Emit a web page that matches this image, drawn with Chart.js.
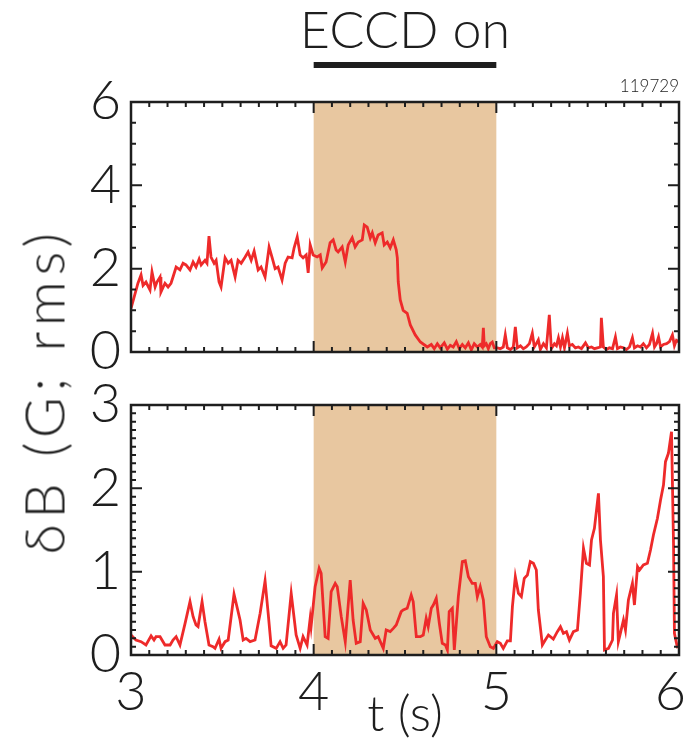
<!DOCTYPE html>
<html><head><meta charset="utf-8">
<script src="https://cdn.jsdelivr.net/npm/chart.js@4/dist/chart.umd.min.js"></script>
<style>
html,body{margin:0;padding:0;background:#fff;}
#wrap{position:relative;width:686px;height:745px;overflow:hidden;background:#fff;}
#c1{position:absolute;left:0;top:0;}
#c2{position:absolute;left:0;top:380px;}
#ylab{position:absolute;left:43px;top:391px;transform:translate(-50%,-50%) rotate(-90deg);font:300 56px Lato, "Noto Sans", sans-serif;letter-spacing:5.5px;white-space:nowrap;color:#222;}
</style></head>
<body><div id="wrap">
<canvas id="c1" width="686" height="380"></canvas>
<canvas id="c2" width="686" height="365"></canvas>
<div id="ylab">δB (G; rms)</div>
</div>
<script>
// ---- data ----
const shotNumber = "119729";
const eccdOn = [4, 5];
const xTickLabels = ["3", "4", "5", "6"];
const topYTicks = [0, 2, 4, 6];
const botYTicks = [0, 1, 2, 3];

const tTop = [3.000,3.016,3.038,3.055,3.066,3.082,3.104,3.115,3.132,3.142,3.159,3.164,3.186,3.203,3.219,3.230,3.247,3.268,3.285,3.301,
3.323,3.340,3.356,3.373,3.384,3.405,3.416,3.427,3.438,3.455,3.466,3.482,3.493,3.515,3.532,3.548,3.570,3.586,3.603,3.625,
3.641,3.658,3.674,3.696,3.712,3.734,3.756,3.773,3.789,3.805,3.827,3.844,3.860,3.882,3.893,3.910,3.926,3.942,3.959,3.970,
3.981,3.997,4.019,4.036,4.047,4.068,4.090,4.107,4.123,4.134,4.156,4.173,4.189,4.211,4.227,4.244,4.266,4.277,4.293,4.310,
4.321,4.337,4.353,4.375,4.386,4.403,4.419,4.436,4.452,4.458,4.463,4.474,4.490,4.512,4.529,4.556,4.584,4.622,
4.644,4.660,4.677,4.693,4.715,4.732,4.748,4.764,4.781,4.797,4.814,4.830,4.847,4.863,4.879,4.896,4.912,4.923,4.929,4.934,
4.945,4.956,4.967,4.978,4.989,5.005,5.022,5.038,5.049,5.060,5.077,5.093,5.104,5.115,5.132,5.148,5.164,5.181,5.197,5.208,
5.219,5.230,5.241,5.258,5.274,5.290,5.301,5.318,5.329,5.340,5.351,5.362,5.373,5.389,5.400,5.416,5.433,5.449,5.466,5.488,
5.504,5.521,5.537,5.553,5.570,5.575,5.586,5.603,5.619,5.636,5.652,5.663,5.679,5.696,5.712,5.729,5.745,5.756,5.773,5.789,
5.805,5.822,5.838,5.855,5.866,5.877,5.888,5.899,5.915,5.932,5.948,5.964,5.975,5.986,6.000];
const dBTop = [1.05,1.30,1.65,1.85,1.60,1.68,1.49,1.92,1.56,1.68,1.80,1.44,1.65,1.56,1.65,1.80,2.04,1.97,2.13,2.09,
1.97,2.16,2.04,2.23,2.09,2.20,2.13,2.78,2.28,2.13,2.20,1.68,1.56,2.26,2.13,2.20,1.80,2.20,2.13,2.28,
2.40,2.20,2.42,1.97,2.04,1.80,2.52,2.26,2.00,2.04,1.73,2.13,2.28,2.26,2.50,2.76,2.33,2.26,2.33,1.90,
2.57,2.33,2.28,2.33,2.02,2.16,2.62,2.69,2.45,2.40,2.52,2.16,2.57,2.74,2.52,2.64,2.69,3.05,3.00,2.74,
2.86,2.62,2.81,2.86,2.57,2.64,2.50,2.69,2.45,2.26,1.68,1.25,1.00,0.93,0.65,0.41,0.24,0.12,
0.18,0.08,0.20,0.10,0.22,0.07,0.16,0.12,0.25,0.08,0.18,0.10,0.22,0.05,0.20,0.12,0.18,0.12,0.58,0.15,
0.20,0.08,0.20,0.24,0.10,0.10,0.08,0.12,0.41,0.10,0.06,0.12,0.60,0.10,0.15,0.08,0.12,0.20,0.45,0.12,
0.20,0.29,0.06,0.20,0.10,0.89,0.08,0.20,0.15,0.34,0.12,0.34,0.10,0.45,0.15,0.18,0.10,0.12,0.08,0.22,
0.10,0.12,0.08,0.10,0.12,0.82,0.12,0.06,0.10,0.08,0.36,0.08,0.12,0.10,0.06,0.12,0.34,0.10,0.15,0.12,
0.20,0.10,0.18,0.45,0.12,0.20,0.36,0.12,0.18,0.20,0.25,0.41,0.15,0.28,0.24];

const tBot = [3.000,3.027,3.055,3.082,3.110,3.126,3.137,3.159,3.186,3.214,3.230,3.247,3.268,3.296,3.323,3.340,3.356,3.367,3.389,3.405,
3.427,3.449,3.460,3.482,3.493,3.515,3.532,3.564,3.597,3.614,3.630,3.652,3.679,3.707,3.734,3.751,3.767,3.795,3.816,3.833,
3.849,3.877,3.904,3.926,3.942,3.964,3.981,3.986,4.008,4.030,4.041,4.063,4.079,4.096,4.118,4.129,4.151,4.173,4.200,4.216,
4.233,4.255,4.271,4.288,4.310,4.337,4.353,4.381,4.397,4.419,4.436,4.452,4.479,4.490,4.512,4.534,4.545,4.562,4.584,4.600,
4.616,4.627,4.644,4.655,4.671,4.688,4.704,4.721,4.732,4.742,4.759,4.770,4.792,4.814,4.830,4.847,4.868,4.885,4.896,4.912,
4.929,4.945,4.967,4.984,5.005,5.022,5.038,5.060,5.077,5.088,5.104,5.121,5.137,5.153,5.170,5.186,5.203,5.219,5.230,5.252,
5.268,5.285,5.312,5.334,5.351,5.367,5.384,5.400,5.422,5.444,5.460,5.477,5.493,5.510,5.521,5.537,5.559,5.570,5.586,5.592,
5.614,5.636,5.641,5.658,5.668,5.679,5.696,5.707,5.723,5.745,5.756,5.773,5.784,5.805,5.827,5.844,5.860,5.882,5.899,5.915,
5.926,5.942,5.959,5.970,5.975,5.992];
const dBBot = [0.24,0.18,0.16,0.12,0.23,0.18,0.22,0.22,0.12,0.12,0.18,0.22,0.12,0.38,0.64,0.46,0.36,0.34,0.64,0.40,
0.12,0.10,0.08,0.19,0.08,0.16,0.18,0.73,0.42,0.18,0.20,0.16,0.18,0.50,0.89,0.50,0.11,0.08,0.16,0.08,
0.12,0.74,0.24,0.08,0.22,0.12,0.44,0.34,0.82,1.04,0.98,0.22,0.20,0.76,0.86,0.82,0.46,0.16,0.90,0.42,
0.14,0.16,0.62,0.54,0.30,0.20,0.22,0.08,0.30,0.28,0.32,0.36,0.52,0.54,0.56,0.72,0.64,0.22,0.22,0.24,
0.44,0.34,0.56,0.60,0.68,0.38,0.14,0.12,0.06,0.52,0.56,0.06,0.70,1.12,1.13,0.94,0.86,0.86,0.70,0.82,
0.66,0.22,0.10,0.08,0.16,0.14,0.08,0.17,0.17,0.58,0.94,0.74,0.70,0.92,0.96,1.12,1.10,1.02,0.54,0.12,
0.18,0.24,0.19,0.28,0.34,0.26,0.28,0.18,0.28,0.30,0.74,1.28,1.10,1.08,1.38,1.52,1.94,1.38,0.94,0.06,
0.08,0.18,0.50,0.72,0.16,0.26,0.42,0.30,0.66,0.86,0.60,1.06,1.02,1.08,1.10,1.26,1.44,1.64,1.86,2.04,
2.32,2.42,2.68,1.34,0.26,0.08];

// ---- styles ----
const FONT = 'Lato, "Noto Sans", sans-serif';
const INK = '#1e1e1e';
const LINE = '#ee2a2a';
const SHADE = 'rgb(232,199,160)';

function pts(xs, ys) { return xs.map((x, i) => ({ x: x, y: ys[i] })); }

function boxPlugin(yMinor, yMajor) {
  return {
    id: 'box',
    beforeDatasetsDraw(chart) {
      const { ctx, chartArea: a, scales: { x } } = chart;
      const x0 = x.getPixelForValue(eccdOn[0]), x1 = x.getPixelForValue(eccdOn[1]);
      ctx.save();
      ctx.fillStyle = SHADE;
      ctx.fillRect(x0, a.top, x1 - x0, a.bottom - a.top);
      ctx.restore();
    },
    afterDatasetsDraw(chart) {
      const { ctx, chartArea: a, scales: { x, y } } = chart;
      ctx.save();
      ctx.strokeStyle = INK;
      ctx.lineWidth = 2;
      ctx.beginPath();
      const nx = Math.round((x.max - x.min) / 0.1);
      for (let i = 0; i <= nx; i++) {
        const v = x.min + i * 0.1;
        const px = x.getPixelForValue(v);
        const len = (i % 10 === 0) ? 11 : 5;
        ctx.moveTo(px, a.bottom); ctx.lineTo(px, a.bottom - len);
        ctx.moveTo(px, a.top); ctx.lineTo(px, a.top + len);
      }
      const ny = Math.round((y.max - y.min) / yMinor);
      const per = Math.round(yMajor / yMinor);
      for (let i = 0; i <= ny; i++) {
        const v = y.min + i * yMinor;
        const py = y.getPixelForValue(v);
        const len = (i % per === 0) ? 11 : 5;
        ctx.moveTo(a.left, py); ctx.lineTo(a.left + len, py);
        ctx.moveTo(a.right, py); ctx.lineTo(a.right - len, py);
      }
      ctx.stroke();
      ctx.lineWidth = 2.5;
      ctx.strokeRect(a.left, a.top, a.right - a.left, a.bottom - a.top);
      ctx.restore();
    }
  };
}

const headerPlugin = {
  id: 'header',
  afterDraw(chart) {
    const { ctx, chartArea: a, scales: { x } } = chart;
    const x0 = x.getPixelForValue(eccdOn[0]), x1 = x.getPixelForValue(eccdOn[1]);
    ctx.save();
    ctx.fillStyle = INK;
    ctx.fillRect(x0, 62, x1 - x0, 6);
    ctx.font = '300 52px ' + FONT;
    ctx.textAlign = 'center';
    ctx.textBaseline = 'alphabetic';
    ctx.fillText('ECCD on', (x0 + x1) / 2, 48);
    ctx.font = '300 17px ' + FONT;
    ctx.textAlign = 'right';
    ctx.fillText(shotNumber, a.right, a.top - 10);
    ctx.restore();
  }
};

const xLabelPlugin = {
  id: 'xlabels',
  afterDraw(chart) {
    const { ctx, chartArea: a, scales: { x } } = chart;
    const W = chart.width;
    ctx.save();
    ctx.fillStyle = INK;
    ctx.font = '300 54px ' + FONT;
    ctx.textAlign = 'center';
    ctx.textBaseline = 'alphabetic';
    xTickLabels.forEach(lbl => {
      const w = ctx.measureText(lbl).width;
      let px = x.getPixelForValue(Number(lbl));
      px = Math.min(px, W - w / 2);
      ctx.fillText(lbl, px, a.bottom + 55);
    });
    ctx.restore();
  }
};

function yAxis(min, max, labels) {
  return {
    type: 'linear', min: min, max: max,
    grid: { display: false, drawTicks: false },
    border: { display: false },
    afterFit(s) { s.width = 131; s.paddingTop = 0; s.paddingBottom = 0; },
    afterBuildTicks(s) { s.ticks = labels.map(v => ({ value: v })); },
    ticks: { color: INK, padding: 10, font: { family: FONT, size: 54, weight: '300' } }
  };
}

const common = {
  responsive: false,
  animation: false,
  devicePixelRatio: 1,
  plugins: { legend: { display: false }, tooltip: { enabled: false } },
};

new Chart(document.getElementById('c1'), {
  type: 'line',
  data: { datasets: [{ data: pts(tTop, dBTop), borderColor: LINE, borderWidth: 2.8, pointRadius: 0, tension: 0 }] },
  options: Object.assign({}, common, {
    layout: { padding: { left: 0, right: 7, top: 102, bottom: 28 } },
    scales: {
      x: { type: 'linear', min: 3, max: 6, display: false },
      y: yAxis(0, 6, topYTicks)
    }
  }),
  plugins: [boxPlugin(0.5, 2), headerPlugin]
});

new Chart(document.getElementById('c2'), {
  type: 'line',
  data: { datasets: [{ data: pts(tBot, dBBot), borderColor: LINE, borderWidth: 2.8, pointRadius: 0, tension: 0 }] },
  options: Object.assign({}, common, {
    layout: { padding: { left: 0, right: 7, top: 25, bottom: 0 } },
    scales: {
      x: {
        type: 'linear', min: 3, max: 6,
        grid: { display: false, drawTicks: false },
        border: { display: false },
        afterFit(s) { s.height = 90; s.paddingLeft = 0; s.paddingRight = 0; },
        ticks: { display: false },
        title: { display: true, text: 't (s)', color: INK, padding: { top: 0, bottom: 0 }, font: { family: FONT, size: 50, weight: '300' } }
      },
      y: yAxis(0, 3, botYTicks)
    }
  }),
  plugins: [boxPlugin(0.1, 1), xLabelPlugin]
});
</script>
</body></html>
